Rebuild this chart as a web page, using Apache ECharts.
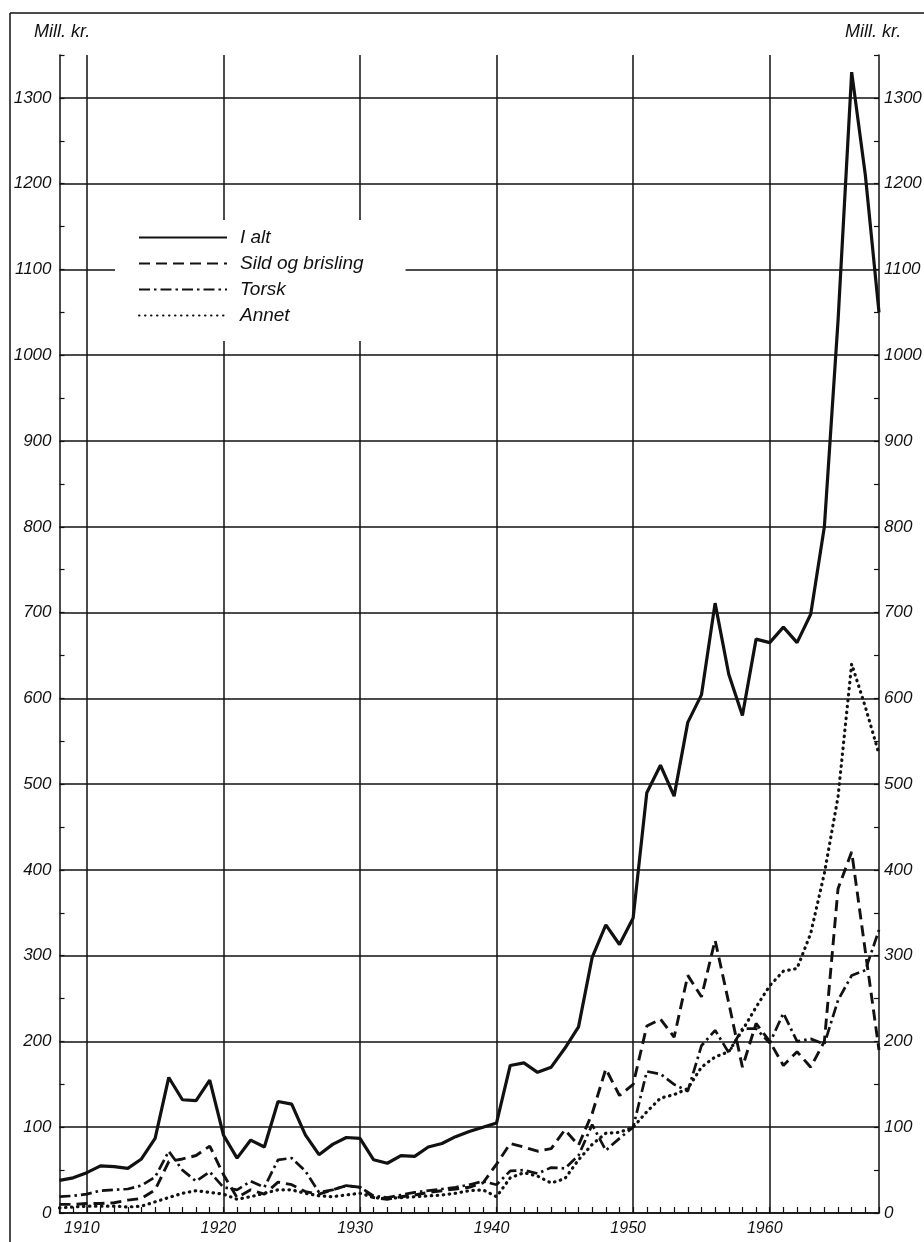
<!DOCTYPE html>
<html>
<head>
<meta charset="utf-8">
<script src="https://cdn.jsdelivr.net/npm/echarts@6/dist/echarts.min.js"></script>
<style>
html,body{margin:0;padding:0;background:#fff;}
#c{width:924px;height:1242px;}
</style>
</head>
<body>
<div id="c"></div>
<script>
// ---- data (Mill. kr.) ----
const years = ['1908','1909','1910','1911','1912','1913','1914','1915','1916','1917',
  '1918','1919','1920','1921','1922','1923','1924','1925','1926','1927',
  '1928','1929','1930','1931','1932','1933','1934','1935','1936','1937',
  '1938','1939','1940','1941','1942','1943','1944','1945','1946','1947',
  '1948','1949','1950','1951','1952','1953','1954','1955','1956','1957',
  '1958','1959','1960','1961','1962','1963','1964','1965','1966','1967','1968'];

const seriesNames = ['I alt', 'Sild og brisling', 'Torsk', 'Annet'];

const iAlt = [38,41,47,55,54,52,63,87,158,132,
  131,155,91,64,85,77,130,127,91,68,
  80,88,87,62,58,67,66,77,81,89,
  95,100,105,172,175,164,170,192,217,298,
  336,313,344,490,522,486,572,604,711,628,
  580,669,665,683,665,698,800,1040,1330,1210,1050];

const sild = [10,10,11,11,12,15,17,27,60,63,
  67,78,45,18,27,22,36,33,25,22,
  27,32,30,18,16,19,21,24,26,28,
  30,35,57,81,77,72,75,97,79,116,
  168,137,150,218,226,205,277,252,318,245,
  170,221,200,172,188,170,200,378,421,305,190];

const torsk = [19,20,22,26,27,28,32,42,72,50,
  37,48,30,27,37,30,62,64,49,24,
  27,32,30,20,18,21,24,26,28,30,
  33,37,33,49,50,46,53,52,67,103,
  73,87,100,165,162,150,142,195,213,187,
  215,215,198,233,200,203,197,248,277,283,330];

const annet = [6,7,8,8,8,7,8,13,18,23,
  26,24,22,16,19,23,27,27,23,20,
  19,21,23,18,17,18,19,20,21,23,
  26,27,19,41,47,43,35,40,62,80,
  93,94,100,118,134,138,145,170,182,188,
  213,240,265,282,285,326,396,485,640,590,535];

const yUnit = 'Mill. kr.';

// ---- chart ----
const ink = '#111';
const font = 'Liberation Sans';
const decade = (i, v) => Number(v) % 10 === 0;

const chart = echarts.init(document.getElementById('c'), null, {renderer: 'canvas'});

const lineSeries = (name, data, style) => ({
  name: name, type: 'line', data: data, symbol: 'none', showSymbol: false,
  yAxisIndex: 0, z: 3,
  lineStyle: Object.assign({color: ink}, style),
  emphasis: {disabled: true}
});

const yLabel = {
  color: ink, fontSize: 17, fontStyle: 'italic', fontFamily: font, showMaxLabel: false,
  formatter: v => String(v)
};

const yCommon = {
  type: 'value', min: 0, max: 1350, interval: 100,
  axisLine: {show: true, lineStyle: {color: ink, width: 1.5}},
  axisTick: {show: true, inside: true, length: 5, lineStyle: {color: ink, width: 1.2}},
  minorTick: {show: true, splitNumber: 2, length: 5, lineStyle: {color: ink, width: 1.2}}
};

chart.setOption({
  animation: false,
  backgroundColor: '#fff',
  grid: {left: 59.5, right: 45, top: 55, bottom: 29, containLabel: false, outerBoundsMode: 'none'},
  legend: {
    orient: 'vertical', left: 115, top: 220,
    itemWidth: 88, itemHeight: 14, itemGap: 7,
    padding: [8, 42, 16, 23],
    backgroundColor: '#fff',
    itemStyle: {opacity: 0},
    textStyle: {color: ink, fontSize: 19, fontStyle: 'italic', fontFamily: font, lineHeight: 17, padding: [0, 0, 0, 8]},
    data: seriesNames
  },
  xAxis: {
    type: 'category', data: years, boundaryGap: false,
    axisLine: {lineStyle: {color: ink, width: 1.5}},
    axisTick: {show: true, interval: 0, inside: true, length: 6, lineStyle: {color: ink, width: 1.2}},
    axisLabel: {interval: decade, color: ink, fontSize: 16, fontStyle: 'italic', fontFamily: font, margin: 8, padding: [0, 10, 0, 0]},
    splitLine: {show: true, interval: decade, lineStyle: {color: ink, width: 1.5}}
  },
  yAxis: [
    Object.assign({}, yCommon, {
      position: 'left',
      axisLabel: Object.assign({margin: 8}, yLabel),
      splitLine: {show: true, showMaxLine: false, lineStyle: {color: ink, width: 1.5}}
    }),
    Object.assign({}, yCommon, {
      position: 'right',
      axisLabel: Object.assign({margin: 5}, yLabel),
      splitLine: {show: false}
    })
  ],
  graphic: [
    {type: 'line', shape: {x1: 10, y1: 13, x2: 924, y2: 13}, style: {stroke: ink, lineWidth: 1.5}},
    {type: 'line', shape: {x1: 10, y1: 13, x2: 10, y2: 1242}, style: {stroke: ink, lineWidth: 1.5}},
    {type: 'text', left: 34, top: 23, style: {text: yUnit, fill: ink, font: 'italic 18px "Liberation Sans"'}},
    {type: 'text', left: 845, top: 23, style: {text: yUnit, fill: ink, font: 'italic 18px "Liberation Sans"'}}
  ],
  series: [
    lineSeries(seriesNames[0], iAlt, {width: 3.2, type: 'solid'}),
    lineSeries(seriesNames[1], sild, {width: 2.9, type: [11, 6]}),
    lineSeries(seriesNames[2], torsk, {width: 2.7, type: [11, 4, 2.5, 4]}),
    lineSeries(seriesNames[3], annet, {width: 3.2, type: [0.5, 5.5], cap: 'round'})
  ]
});
</script>
</body>
</html>
